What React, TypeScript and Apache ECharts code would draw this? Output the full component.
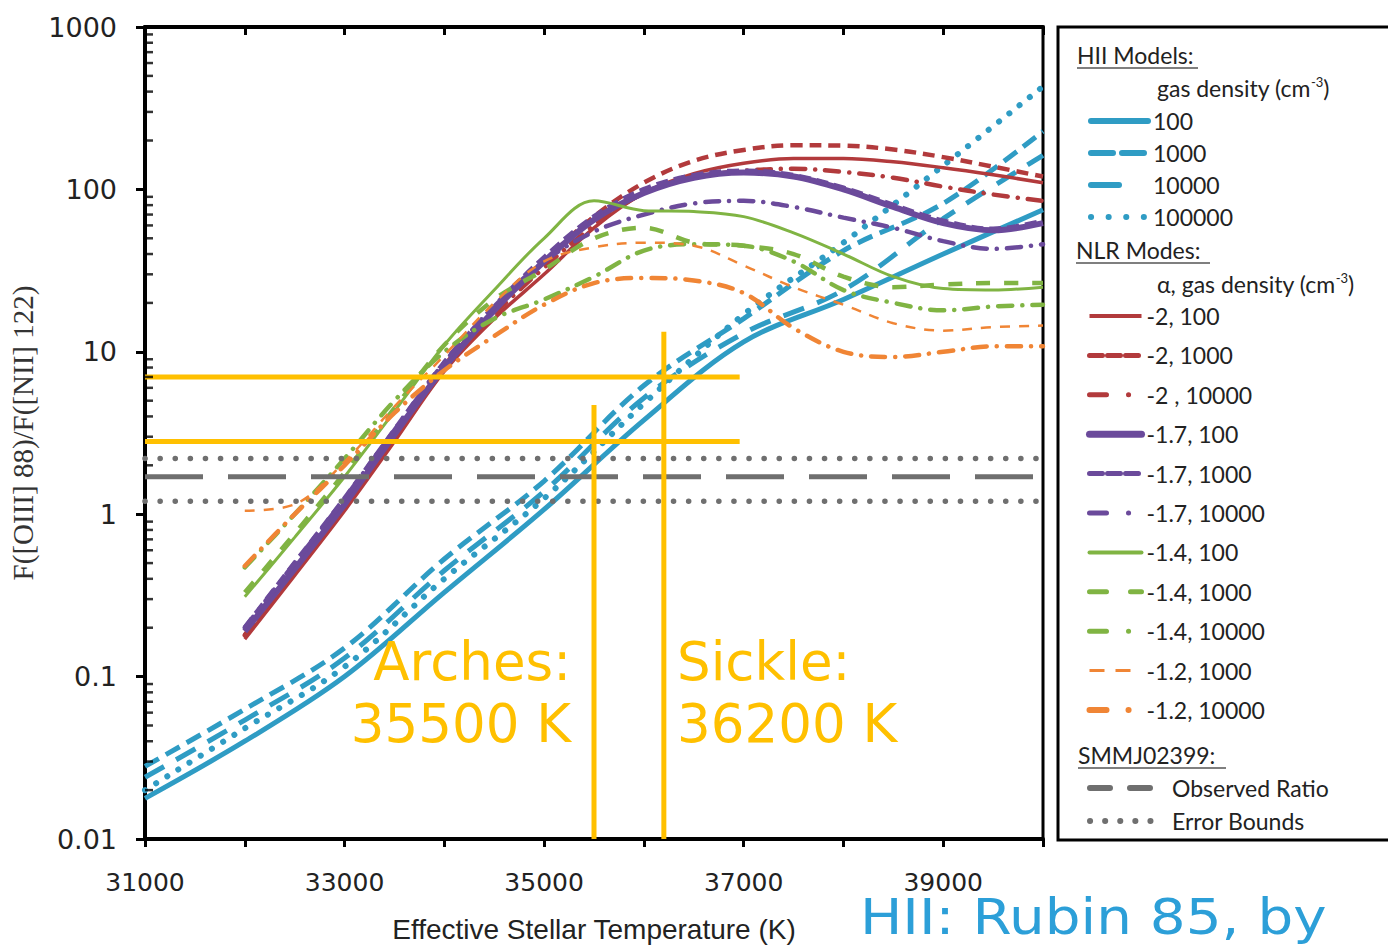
import React, { useEffect, useRef } from "react";
import * as echarts from "echarts";

// ---------- data ----------
const T_HII = [31000, 32000, 33000, 34000, 35000, 36000, 37000, 38000, 39000, 40000];
const HII_100 = [0.0178, 0.04, 0.1, 0.33, 1.07, 3.8, 11.5, 21, 40, 75];
const HII_1000 = [0.028, 0.063, 0.15, 0.53, 1.6, 6.2, 16, 42, 82, 228];
const HII_10000 = [0.024, 0.054, 0.13, 0.45, 1.38, 5.2, 13, 24, 66, 162];
const HII_100000 = [0.02, 0.048, 0.115, 0.4, 1.25, 4.8, 17, 47, 140, 430];

const T_NLR = [32000, 32500, 33000, 33500, 34000, 34500, 35000, 35500, 36000, 36500, 37000, 37500, 38000, 38500, 39000, 39500, 40000];
const A20_100 = [0.17, 0.42, 1.05, 2.8, 7.6, 16, 30, 58, 95, 125, 145, 155, 155, 148, 136, 123, 110];
const A20_1000 = [0.18, 0.45, 1.12, 3.0, 8.2, 18, 36, 68, 110, 150, 175, 187, 186, 176, 158, 138, 120];
const A20_10000 = [0.18, 0.45, 1.1, 2.9, 7.8, 17, 33, 60, 95, 118, 130, 134, 128, 118, 104, 93, 85];
const A17_100 = [0.19, 0.46, 1.15, 3.1, 8.0, 18, 36, 65, 95, 118, 127, 120, 100, 78, 62, 56, 62];
const A17_1000 = [0.2, 0.5, 1.25, 3.3, 8.6, 19, 38, 68, 100, 122, 130, 122, 102, 80, 64, 57, 64];
const A17_10000 = [0.2, 0.5, 1.25, 3.3, 8.6, 19, 36, 55, 70, 82, 85, 78, 67, 58, 48, 43, 46];
const A14_100 = [0.31, 0.72, 1.7, 4.3, 11, 24, 50, 85, 74, 73, 68, 54, 40, 29, 24.5, 24, 25];
const A14_1000 = [0.33, 0.76, 1.8, 4.5, 11, 21, 32, 50, 58, 47, 45, 40, 29, 25, 26, 26.5, 26.5];
const A14_10000 = [0.47, 1.0, 2.2, 5.0, 10, 16, 21, 29, 42, 46, 45, 36, 24, 20, 18, 19, 19.5];
const A12_1000 = [1.05, 1.15, 2.1, 4.6, 9.5, 20, 36, 44, 47, 45, 34, 25, 19.5, 15, 13.5, 14.2, 14.5];
const A12_10000 = [0.48, 1.0, 2.0, 4.2, 7.7, 12.5, 19.5, 26.5, 28.5, 27.5, 23, 14, 10, 9.3, 10, 10.8, 10.8];

const OBS_T = [31000, 40000];
const OBS_RATIO = 1.7;
const ERR_LOW = 1.2;
const ERR_HIGH = 2.2;

const BAND_T = [31000, 36960];
const RATIO_LOW = 2.8;
const RATIO_HIGH = 7.0;
const ARCHES_T = 35500;
const ARCHES_TOP = 4.7;
const SICKLE_T = 36200;
const SICKLE_TOP = 13.3;
const Y_BOTTOM = 0.01;

const X_TICK_LABELS = [31000, 33000, 35000, 37000, 39000];
const MINOR_TICKS = [
  0.02, 0.03, 0.04, 0.05, 0.06, 0.07, 0.08, 0.09,
  0.2, 0.3, 0.4, 0.5, 0.6, 0.7, 0.8, 0.9,
  2, 3, 4, 5, 6, 7, 8, 9,
  20, 30, 40, 50, 60, 70, 80, 90,
  200, 300, 400, 500, 600, 700, 800, 900,
];

// ---------- styles ----------
const BLUE = "#2f9cc4";
const RED = "#b23a3c";
const PURPLE = "#6b4a9b";
const GREEN = "#80b443";
const ORANGE = "#f08535";
const GRAY = "#6f6f6f";
const GOLD = "#ffc000";
const DASHDOT = [14, 10, 0.1, 10];
const L_DASHDOT = [17, 22, 0.1, 40];

type Def = {
  name: string; t: number[]; v: number[]; color: string; w: number;
  dash: any; cap: string; lw: number; ldash: any; lcap: string;
};

const HII_DEFS: Def[] = [
  { name: "100", t: T_HII, v: HII_100, color: BLUE, w: 5, dash: "solid", cap: "butt", lw: 6, ldash: "solid", lcap: "round" },
  { name: "1000", t: T_HII, v: HII_1000, color: BLUE, w: 5, dash: [16, 8], cap: "butt", lw: 6, ldash: [22, 9], lcap: "round" },
  { name: "10000", t: T_HII, v: HII_10000, color: BLUE, w: 5, dash: [22, 14], cap: "butt", lw: 6, ldash: [28, 40], lcap: "round" },
  { name: "100000", t: T_HII, v: HII_100000, color: BLUE, w: 6, dash: [0.1, 13], cap: "round", lw: 6, ldash: [0.1, 17.5], lcap: "round" },
];

const NLR_DEFS: Def[] = [
  { name: "-2, 100", t: T_NLR, v: A20_100, color: RED, w: 3.5, dash: "solid", cap: "butt", lw: 4, ldash: "solid", lcap: "butt" },
  { name: "-2, 1000", t: T_NLR, v: A20_1000, color: RED, w: 4.5, dash: [12, 7], cap: "butt", lw: 5, ldash: [13, 5], lcap: "round" },
  { name: "-2 , 10000", t: T_NLR, v: A20_10000, color: RED, w: 4.5, dash: DASHDOT, cap: "round", lw: 5, ldash: L_DASHDOT, lcap: "round" },
  { name: "-1.7, 100", t: T_NLR, v: A17_100, color: PURPLE, w: 6, dash: "solid", cap: "butt", lw: 7, ldash: "solid", lcap: "round" },
  { name: "-1.7, 1000", t: T_NLR, v: A17_1000, color: PURPLE, w: 5, dash: [12, 6], cap: "butt", lw: 5, ldash: [13, 5], lcap: "round" },
  { name: "-1.7, 10000", t: T_NLR, v: A17_10000, color: PURPLE, w: 4.5, dash: DASHDOT, cap: "round", lw: 5, ldash: L_DASHDOT, lcap: "round" },
  { name: "-1.4, 100", t: T_NLR, v: A14_100, color: GREEN, w: 3, dash: "solid", cap: "butt", lw: 4, ldash: "solid", lcap: "round" },
  { name: "-1.4, 1000", t: T_NLR, v: A14_1000, color: GREEN, w: 4.5, dash: [14, 14], cap: "butt", lw: 5, ldash: [17, 24], lcap: "round" },
  { name: "-1.4, 10000", t: T_NLR, v: A14_10000, color: GREEN, w: 4.5, dash: DASHDOT, cap: "round", lw: 5, ldash: L_DASHDOT, lcap: "round" },
  { name: "-1.2, 1000", t: T_NLR, v: A12_1000, color: ORANGE, w: 2.5, dash: [10, 9], cap: "butt", lw: 3, ldash: [15, 11], lcap: "butt" },
  { name: "-1.2, 10000", t: T_NLR, v: A12_10000, color: ORANGE, w: 4.5, dash: DASHDOT, cap: "round", lw: 6, ldash: L_DASHDOT, lcap: "round" },
];

const TXT = "#222";
const LEG_FONT = "Lato";

function lineSeries(d: Def) {
  return {
    type: "line",
    name: d.name,
    data: d.t.map((t, i) => [t, d.v[i]]),
    symbol: "none",
    smooth: 0.35,
    lineStyle: { color: d.color, width: d.w, type: d.dash, cap: d.cap },
    itemStyle: { color: d.color },
    silent: true,
  };
}

function legendItem(d: Def) {
  return { name: d.name, lineStyle: { width: d.lw, type: d.ldash, cap: d.lcap } };
}

function flatLine(name: string, xs: number[], y: number, style: any) {
  return {
    type: "line",
    name,
    data: xs.map((x) => [x, y]),
    symbol: "none",
    lineStyle: style,
    itemStyle: { color: style.color },
    silent: true,
    z: 3,
  };
}

function vLine(name: string, x: number, top: number) {
  return {
    type: "line",
    name,
    data: [[x, top], [x, Y_BOTTOM]],
    symbol: "none",
    lineStyle: { color: GOLD, width: 5 },
    itemStyle: { color: GOLD },
    silent: true,
    z: 5,
  };
}

const legendText = {
  fontFamily: LEG_FONT,
  fontSize: 23,
  color: TXT,
  lineHeight: 24,
};

export default function App() {
  const ref = useRef<HTMLDivElement>(null);

  useEffect(() => {
    if (!ref.current) return;
    const chart = echarts.init(ref.current, undefined, { renderer: "svg" });

    const series: any[] = [
      ...HII_DEFS.map(lineSeries),
      ...NLR_DEFS.map(lineSeries),
      flatLine("Error Bounds", OBS_T, ERR_HIGH, { color: GRAY, width: 5.5, type: [0.1, 15], cap: "round" }),
      flatLine("Observed Ratio", OBS_T, OBS_RATIO, { color: GRAY, width: 5, type: [58, 25], cap: "butt" }),
      flatLine("Error Bounds", OBS_T, ERR_LOW, { color: GRAY, width: 5.5, type: [0.1, 15], cap: "round" }),
      { ...flatLine("ratio high", BAND_T, RATIO_HIGH, { color: GOLD, width: 5 }), z: 5 },
      { ...flatLine("ratio low", BAND_T, RATIO_LOW, { color: GOLD, width: 5 }), z: 5 },
      vLine("Arches", ARCHES_T, ARCHES_TOP),
      vLine("Sickle", SICKLE_T, SICKLE_TOP),
      {
        type: "scatter",
        name: "minor ticks",
        data: MINOR_TICKS.map((v) => [31000, v]),
        symbol: "rect",
        symbolSize: [8, 2.5],
        symbolOffset: [4, 0],
        itemStyle: { color: "#000" },
        silent: true,
        clip: false,
        z: 6,
      },
    ];

    const option: any = {
      animation: false,
      backgroundColor: "#fff",
      grid: {
        left: 143, top: 27, right: 345, bottom: 108,
        show: true, borderColor: "#000", borderWidth: 3, backgroundColor: "transparent",
      },
      xAxis: [
        {
          type: "value", min: 31000, max: 40000, interval: 1000, position: "bottom",
          axisLine: { lineStyle: { color: "#000", width: 4 } },
          axisTick: { length: 8, lineStyle: { color: "#000", width: 3 } },
          axisLabel: {
            margin: 31,
            formatter: (v: number) => (X_TICK_LABELS.includes(v) ? String(v) : ""),
            fontFamily: "DejaVu Sans", fontSize: 25, color: TXT,
          },
          splitLine: { show: false },
          name: "Effective Stellar Temperature (K)",
          nameLocation: "middle", nameGap: 76,
          nameTextStyle: { fontFamily: "Liberation Sans", fontSize: 28, color: TXT },
        },
        {
          type: "value", min: 31000, max: 40000, interval: 1000, position: "top",
          axisLine: { lineStyle: { color: "#000", width: 4 } },
          axisTick: { length: 8, inside: true, lineStyle: { color: "#000", width: 3 } },
          axisLabel: { show: false },
          splitLine: { show: false },
        },
      ],
      yAxis: {
        type: "log", logBase: 10, min: 0.01, max: 1000,
        axisLine: { show: true, lineStyle: { color: "#000", width: 4 } },
        axisTick: { show: true, length: 9, lineStyle: { color: "#000", width: 3 } },
        axisLabel: {
          margin: 28,
          formatter: (v: number) => String(+Number(v).toPrecision(6)),
          fontFamily: "DejaVu Sans", fontSize: 27, color: TXT,
        },
        splitLine: { show: false },
        name: "F([OIII] 88)/F([NII] 122)",
        nameLocation: "middle", nameGap: 108,
        nameTextStyle: { fontFamily: "Liberation Serif", fontSize: 29, color: "#333" },
      },
      legend: [
        {
          data: HII_DEFS.map(legendItem), orient: "vertical", left: 1088, top: 109, padding: 0,
          itemWidth: 57, itemHeight: 14, itemGap: 8, selectedMode: false,
          itemStyle: { opacity: 0 }, textStyle: legendText,
        },
        {
          data: NLR_DEFS.map(legendItem), orient: "vertical", left: 1086, top: 304, padding: 0,
          itemWidth: 52, itemHeight: 14, itemGap: 15.4, selectedMode: false,
          itemStyle: { opacity: 0 }, textStyle: legendText,
        },
        {
          data: [
            { name: "Observed Ratio", lineStyle: { width: 6, type: [20, 20], cap: "round" } },
            { name: "Error Bounds", lineStyle: { width: 6, type: [0.1, 15], cap: "round" } },
          ],
          orient: "vertical", left: 1087, top: 776, padding: 0,
          itemWidth: 63, itemHeight: 14, itemGap: 9, selectedMode: false,
          itemStyle: { opacity: 0 }, textStyle: { ...legendText, padding: [0, 0, 0, 14] },
        },
      ],
      graphic: [
        { type: "rect", shape: { x: 1058, y: 27, width: 345, height: 813 }, style: { fill: "none", stroke: "#000", lineWidth: 3 }, z: 1 },
        { type: "text", x: 1077, y: 55, style: { text: "HII Models:", fontFamily: LEG_FONT, fontSize: 23, fill: TXT, verticalAlign: "middle" } },
        { type: "line", shape: { x1: 1077, y1: 68, x2: 1198, y2: 68 }, style: { stroke: "#555", lineWidth: 1.5 } },
        {
          type: "text", x: 1157, y: 88,
          style: {
            text: "{a|gas density (cm}{s|-3}{a|)}", verticalAlign: "middle",
            rich: {
              a: { fontFamily: LEG_FONT, fontSize: 23, fill: TXT, lineHeight: 26 },
              s: { fontFamily: LEG_FONT, fontSize: 13, fill: TXT, lineHeight: 26, verticalAlign: "top" },
            },
          },
        },
        { type: "text", x: 1076, y: 250, style: { text: "NLR Modes:", fontFamily: LEG_FONT, fontSize: 23, fill: TXT, verticalAlign: "middle" } },
        { type: "line", shape: { x1: 1076, y1: 263, x2: 1210, y2: 263 }, style: { stroke: "#555", lineWidth: 1.5 } },
        {
          type: "text", x: 1157, y: 284,
          style: {
            text: "{a|α, gas density (cm}{s|-3}{a|)}", verticalAlign: "middle",
            rich: {
              a: { fontFamily: LEG_FONT, fontSize: 23, fill: TXT, lineHeight: 26 },
              s: { fontFamily: LEG_FONT, fontSize: 13, fill: TXT, lineHeight: 26, verticalAlign: "top" },
            },
          },
        },
        { type: "text", x: 1078, y: 755, style: { text: "SMMJ02399:", fontFamily: LEG_FONT, fontSize: 23, fill: TXT, verticalAlign: "middle" } },
        { type: "line", shape: { x1: 1078, y1: 768, x2: 1226, y2: 768 }, style: { stroke: "#555", lineWidth: 1.5 } },
        { type: "text", x: 571, y: 661, z: 10, style: { text: "Arches:", fontFamily: "DejaVu Sans", fontSize: 53, fill: GOLD, align: "right", verticalAlign: "middle" } },
        { type: "text", x: 571, y: 723, z: 10, style: { text: "35500 K", fontFamily: "DejaVu Sans", fontSize: 53, fill: GOLD, align: "right", verticalAlign: "middle" } },
        { type: "text", x: 677, y: 661, z: 10, style: { text: "Sickle:", fontFamily: "DejaVu Sans", fontSize: 53, fill: GOLD, align: "left", verticalAlign: "middle" } },
        { type: "text", x: 677, y: 723, z: 10, style: { text: "36200 K", fontFamily: "DejaVu Sans", fontSize: 53, fill: GOLD, align: "left", verticalAlign: "middle" } },
        {
          type: "text", x: 860, y: 917, z: 10, scaleX: 1.15,
          style: { text: "HII: Rubin 85, by", fontFamily: "DejaVu Sans", fontSize: 49, fill: "#2c9fd8", align: "left", verticalAlign: "middle" },
        },
      ],
      series,
    };

    chart.setOption(option);
    return () => chart.dispose();
  }, []);

  return (
    <div
      ref={ref}
      style={{ position: "fixed", left: 0, top: 0, width: 1388, height: 948, background: "#fff" }}
    />
  );
}
